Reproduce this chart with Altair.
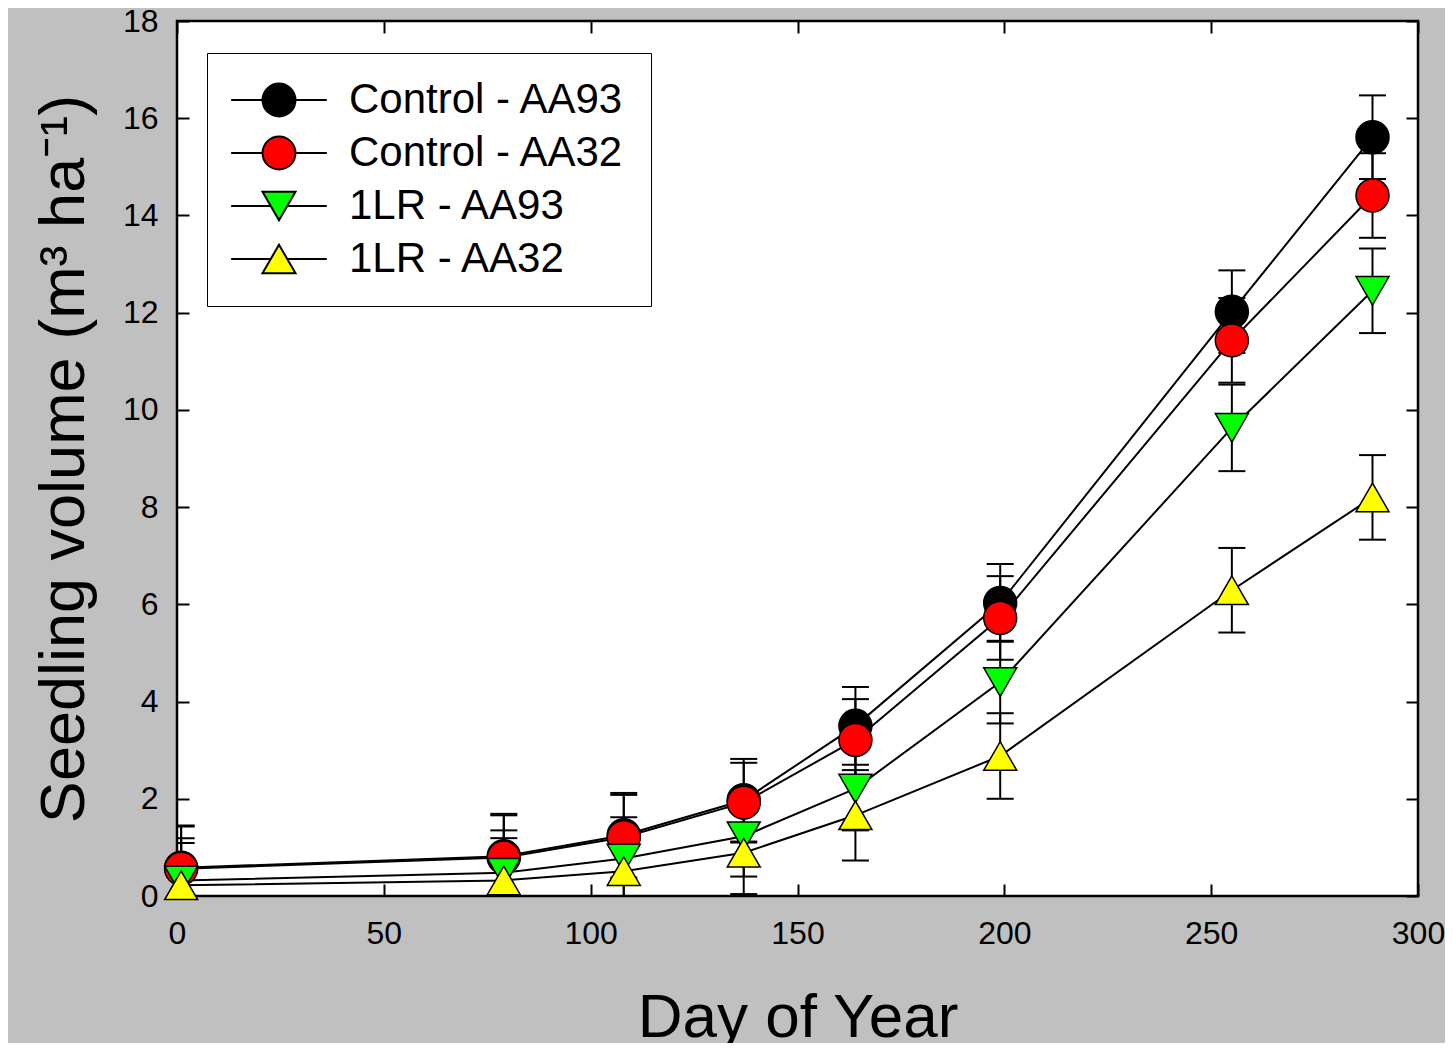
import altair as alt
import pandas as pd

# ---------------- data ----------------
days = [1, 79, 108, 137, 164, 199, 255, 289]
series_names = ["Control - AA93", "Control - AA32", "1LR - AA93", "1LR - AA32"]

control_aa93 = [0.58, 0.82, 1.25, 1.97, 3.50, 6.03, 12.02, 15.61]
control_aa32 = [0.56, 0.79, 1.21, 1.92, 3.21, 5.72, 11.43, 14.41]
lr_aa93 = [0.32, 0.48, 0.77, 1.23, 2.21, 4.40, 9.63, 12.45]
lr_aa32 = [0.22, 0.32, 0.51, 0.89, 1.66, 2.88, 6.29, 8.20]

err_control_aa93 = [0.87, 0.87, 0.87, 0.85, 0.80, 0.80, 0.85, 0.86]
err_control_aa32 = [0.87, 0.87, 0.87, 0.82, 0.84, 0.86, 0.87, 0.87]
err_lr_aa93 = [0.87, 0.87, 0.85, 0.83, 0.86, 0.85, 0.89, 0.87]
err_lr_aa32 = [0.87, 0.87, 0.85, 0.85, 0.93, 0.88, 0.87, 0.87]

x_ticks = [0, 50, 100, 150, 200, 250, 300]
y_ticks = [0, 2, 4, 6, 8, 10, 12, 14, 16, 18]

# ---------------- styles ----------------
fill_colors = ["#000000", "#ff0000", "#00ff00", "#ffff00"]
outline_colors = ["#000000", "#000000", "#000000", "#000000"]
point_shapes = ["circle", "circle", "triangle-down", "triangle-up"]
circle_leg = "M-2.9,0L-1,0M1,0L2.9,0M-1,0A1,1 0 1,0 1,0A1,1 0 1,0 -1,0Z"
down_leg = "M-2.9,0L-0.5,0M0.5,0L2.9,0M-1,-0.866L1,-0.866L0,0.866Z"
up_leg = "M-2.9,0L-0.5,0M0.5,0L2.9,0M0,-0.866L1,0.866L-1,0.866Z"
legend_shapes = [circle_leg, circle_leg, down_leg, up_leg]

FONT = "Liberation Sans"
TICK = 12

rows = []
for name, vals, errs in zip(
    series_names,
    [control_aa93, control_aa32, lr_aa93, lr_aa32],
    [err_control_aa93, err_control_aa32, err_lr_aa93, err_lr_aa32],
):
    for d, v, e in zip(days, vals, errs):
        rows.append({"series": name, "day": d, "value": v, "lo": v - e, "hi": v + e})
df = pd.DataFrame(rows)

xs = alt.Scale(domain=[0, 300], nice=False, zero=False)
ys = alt.Scale(domain=[0, 18], nice=False, zero=False)


def tick_axis(orient):
    vals = x_ticks if orient in ("top", "bottom") else y_ticks
    return alt.Axis(
        orient=orient, offset=-TICK, tickSize=TICK, tickWidth=2, tickColor="black",
        ticks=True, labels=False, domain=False, grid=False, title=None, values=vals,
    )


base = alt.Chart(df)

lines = base.mark_line(color="black", strokeWidth=2, clip=True).encode(
    x=alt.X(
        "day:Q", scale=xs,
        axis=alt.Axis(
            orient="bottom", values=x_ticks, ticks=False, tickSize=0, domain=False, grid=False,
            labelFont=FONT, labelFontSize=32, labelColor="black", labelPadding=22, labelFlush=False,
            title="Day of Year", titleFont=FONT, titleFontSize=62, titleFontWeight="normal",
            titleColor="black", titlePadding=38,
        ),
    ),
    y=alt.Y(
        "value:Q", scale=ys,
        axis=alt.Axis(
            orient="left", values=y_ticks, ticks=False, tickSize=0, domain=False, grid=False,
            labelFont=FONT, labelFontSize=32, labelColor="black", labelPadding=19, labelFlush=False,
            title="Seedling volume (m³ ha⁻¹)", titleFont=FONT, titleFontSize=63,
            titleFontWeight="normal", titleColor="black", titlePadding=26,
        ),
    ),
    detail="series:N",
)

rules = base.mark_rule(color="black", strokeWidth=2, clip=True).encode(
    x=alt.X("day:Q", scale=xs, axis=tick_axis("bottom")),
    y=alt.Y("lo:Q", scale=ys, axis=tick_axis("left")),
    y2="hi:Q",
)

caps_lo = base.mark_tick(orient="horizontal", size=27, thickness=2, color="black",
                         opacity=1, clip=True).encode(
    x=alt.X("day:Q", scale=xs, axis=None),
    y=alt.Y("lo:Q", scale=ys, axis=None),
)
caps_hi = base.mark_tick(orient="horizontal", size=27, thickness=2, color="black",
                         opacity=1, clip=True).encode(
    x=alt.X("day:Q", scale=xs, axis=None),
    y=alt.Y("hi:Q", scale=ys, axis=None),
)

point_layers = []
for i, name in enumerate(series_names):
    xa = tick_axis("top") if i == 0 else None
    ya = tick_axis("right") if i == 0 else None
    point_layers.append(
        base.transform_filter(alt.datum.series == name)
        .mark_point(filled=True, size=1089, shape=point_shapes[i], fill=fill_colors[i],
                    stroke="black", strokeWidth=1.5, opacity=1)
        .encode(
            x=alt.X("day:Q", scale=xs, axis=xa),
            y=alt.Y("value:Q", scale=ys, axis=ya),
        )
    )

leg = alt.Legend(
    title=None, orient="none", legendX=30, legendY=32, fillColor="white", strokeColor="black",
    padding=26, rowPadding=11, symbolSize=1089, symbolStrokeWidth=2,
    symbolOpacity=1, symbolOffset=25, labelOffset=49, labelFont=FONT, labelFontSize=42,
    labelColor="black", labelLimit=600,
)

legend_layer = base.mark_point(filled=True, size=1089, opacity=0, strokeWidth=2).encode(
    x=alt.X("day:Q", scale=xs, axis=None),
    y=alt.Y("value:Q", scale=ys, axis=None),
    shape=alt.Shape("series:N", scale=alt.Scale(domain=series_names, range=legend_shapes), legend=leg),
    fill=alt.Fill("series:N", scale=alt.Scale(domain=series_names, range=fill_colors), legend=leg),
    stroke=alt.Stroke("series:N", scale=alt.Scale(domain=series_names, range=outline_colors), legend=leg),
)

chart = (
    alt.layer(lines, rules, caps_lo, caps_hi, *point_layers, legend_layer)
    .resolve_axis(x="independent", y="independent")
    .properties(
        width=1241, height=875,
        autosize=alt.AutoSizeParams(type="none"),
        padding={"left": 169, "top": 13, "right": 27, "bottom": 147},
        background="#c0c0c0",
    )
    .configure_view(fill="white", stroke="black", strokeWidth=2.5)
    .configure_axis(grid=False)
)

chart.save("out.html", embed_options={"renderer": "svg", "actions": False})
